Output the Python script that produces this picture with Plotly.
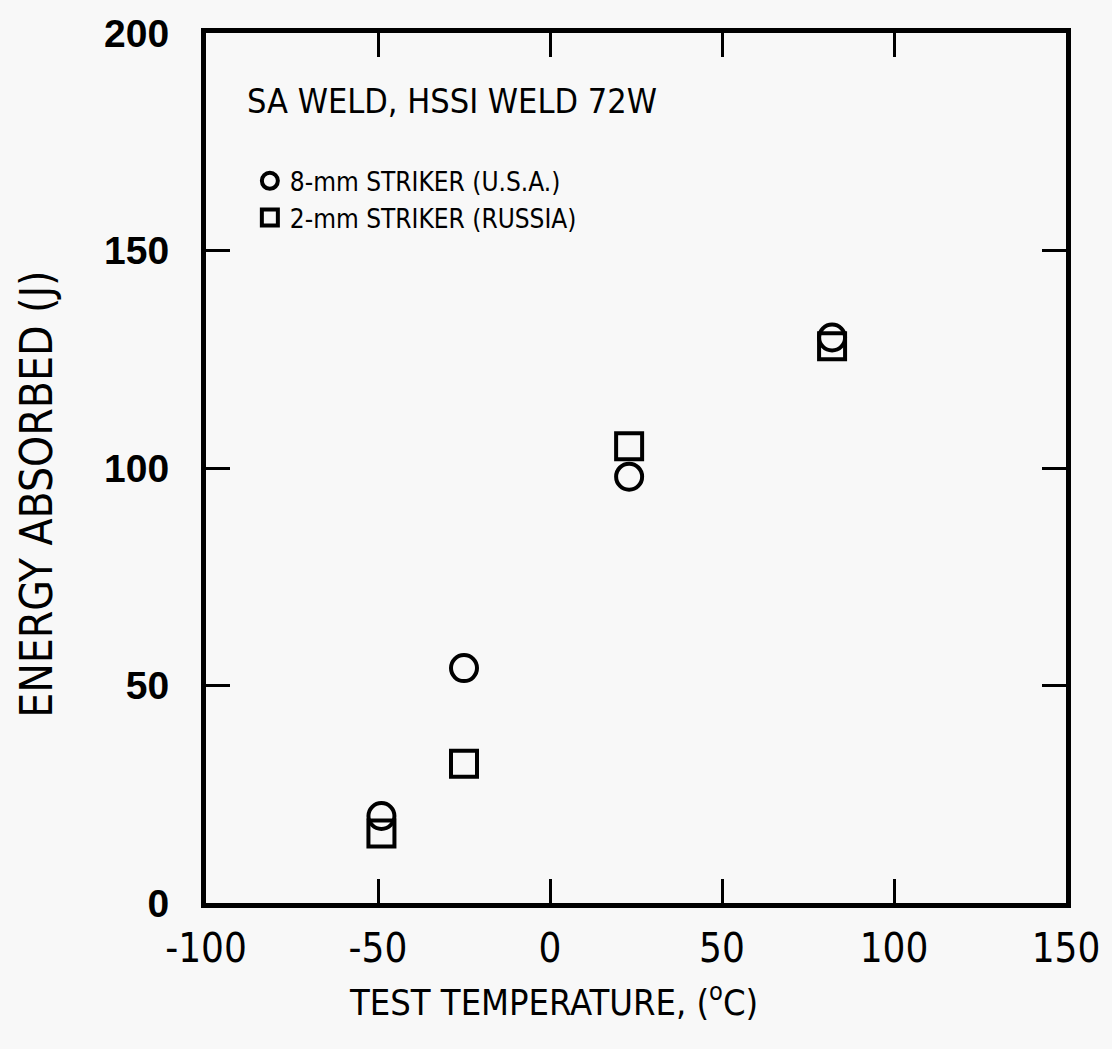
import plotly.graph_objects as go

# Data
usa_temp = [-49, -25, 23, 82]
usa_energy = [20, 54, 98, 130]
rus_temp = [-49, -25, 23, 82]
rus_energy = [16, 32, 105, 128]

x_ticks = [-100, -50, 0, 50, 100, 150]
y_ticks = [0, 50, 100, 150, 200]

NARROW = "DejaVu Sans Condensed, Liberation Sans Narrow, Liberation Sans, sans-serif"

def nf(size):
    return dict(family=NARROW, size=size, color="black")

fig = go.Figure()
fig.add_trace(go.Scatter(
    x=usa_temp, y=usa_energy, mode="markers", name="8-mm STRIKER (U.S.A.)",
    marker=dict(symbol="circle-open", size=26, color="black", line=dict(width=4, color="black")),
))
fig.add_trace(go.Scatter(
    x=rus_temp, y=rus_energy, mode="markers", name="2-mm STRIKER (RUSSIA)",
    marker=dict(symbol="square-open", size=26, color="black", line=dict(width=4, color="black")),
))

fig.update_layout(
    width=1112, height=1049,
    margin=dict(l=206, r=42, t=24, b=146),
    paper_bgcolor="#f8f8f8", plot_bgcolor="#f8f8f8",
    font=nf(34),
    showlegend=True,
    legend=dict(
        x=0.051, y=0.857, xanchor="left", yanchor="top",
        bgcolor="rgba(0,0,0,0)", font=nf(26),
        itemsizing="trace", tracegroupgap=0,
    ),
    xaxis=dict(
        range=[-100, 150], tickvals=x_ticks, ticktext=[str(v) for v in x_ticks],
        showgrid=False, zeroline=False, showline=True, linewidth=5, linecolor="black",
        mirror="ticks", ticks="inside", ticklen=24, tickwidth=3, tickcolor="black",
        tickfont=nf(40), ticklabelstandoff=6,
    ),
    yaxis=dict(
        range=[0, 200], tickvals=y_ticks, ticktext=[str(v) for v in y_ticks],
        showgrid=False, zeroline=False, showline=True, linewidth=5, linecolor="black",
        mirror="ticks", ticks="inside", ticklen=24, tickwidth=3, tickcolor="black",
        tickfont=dict(family="Liberation Sans, Arial, sans-serif", size=39, weight="bold", color="black"),
        ticklabelstandoff=24,
    ),
)

fig.add_annotation(
    text="SA WELD, HSSI WELD 72W", xref="paper", yref="paper",
    x=0.045, y=0.922, xanchor="left", yanchor="middle", showarrow=False,
    font=nf(34),
)
fig.add_annotation(
    text="TEST TEMPERATURE, (<sup>o</sup>C)", xref="paper", yref="paper",
    x=0.404, y=-0.111, xanchor="center", yanchor="middle", showarrow=False,
    font=nf(36),
)
fig.add_annotation(
    text="ENERGY ABSORBED (J)", xref="paper", yref="paper", textangle=-90,
    x=-0.198, y=0.47, xanchor="center", yanchor="middle", showarrow=False,
    font=nf(44),
)

fig.write_html("out.html")
